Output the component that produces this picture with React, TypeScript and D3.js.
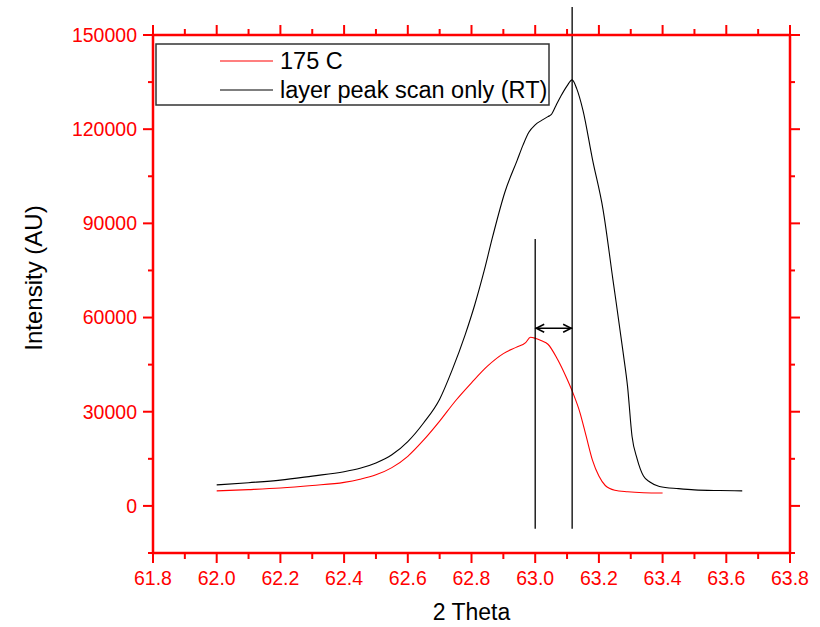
import React from "react";
import * as d3 from "d3";

const rtTheta = [62.0, 62.1, 62.2, 62.3, 62.4, 62.45, 62.5, 62.55, 62.6, 62.65, 62.7, 62.74, 62.78, 62.81, 62.84, 62.867, 62.905, 62.943, 62.962, 62.98, 63.0, 63.02, 63.04, 63.05, 63.065, 63.08, 63.1, 63.116, 63.13, 63.15, 63.18, 63.213, 63.244, 63.276, 63.29, 63.304, 63.32, 63.34, 63.36, 63.39, 63.45, 63.5, 63.58, 63.65];
const rtIntensity = [6700, 7400, 8200, 9500, 10900, 12000, 13700, 16300, 20500, 26500, 34000, 43500, 54500, 64000, 75000, 86000, 100000, 110000, 115000, 119000, 121400, 122800, 124000, 124600, 127500, 130400, 133800, 135700, 133000, 126000, 110300, 94400, 72100, 48900, 38000, 22200, 15000, 9500, 7600, 6200, 5500, 5100, 4900, 4800];

const hotTheta = [62.0, 62.1, 62.2, 62.3, 62.4, 62.45, 62.5, 62.55, 62.6, 62.65, 62.7, 62.75, 62.8, 62.85, 62.9, 62.94, 62.97, 62.985, 63.0, 63.02, 63.04, 63.07, 63.1, 63.12, 63.14, 63.16, 63.18, 63.2, 63.22, 63.25, 63.29, 63.34, 63.4];
const hotIntensity = [4800, 5200, 5700, 6500, 7500, 8500, 9900, 12200, 15800, 21000, 27000, 33500, 39200, 44500, 48500, 50500, 52000, 53700, 53400, 52600, 51500, 46700, 40400, 35600, 29900, 22200, 14500, 9500, 6500, 5000, 4500, 4200, 4100];

const xTicks = [61.8, 62.0, 62.2, 62.4, 62.6, 62.8, 63.0, 63.2, 63.4, 63.6, 63.8];
const yTicks = [0, 30000, 60000, 90000, 120000, 150000];
const seriesNames = ["175 C", "layer peak scan only (RT)"];

const markerTheta = [63.0, 63.116];
const markerTop = [85000, 158900];
const markerBottom = -7300;
const arrowLevel = 56600;

const W = 820, H = 627;
const L = 153, R = 790, T = 35, B = 553;
const RED = "#ff0000";
const FONT = "'Liberation Sans', Arial, sans-serif";

export default function App() {
  const x = d3.scaleLinear().domain([61.8, 63.8]).range([L, R]);
  const y = d3.scaleLinear().domain([-15000, 150000]).range([B, T]);
  const line = d3.line<[number, number]>().x(d => x(d[0])).y(d => y(d[1])).curve(d3.curveMonotoneX);
  const rt = rtTheta.map((t, i) => [t, rtIntensity[i]] as [number, number]);
  const hot = hotTheta.map((t, i) => [t, hotIntensity[i]] as [number, number]);

  const xMinor = d3.range(0, 21).map(i => 61.8 + i * 0.1);
  const yMinor = d3.range(-1, 11).map(i => i * 15000);

  const ax0 = x(markerTheta[0]), ax1 = x(markerTheta[1]), ay = y(arrowLevel);

  return (
    <svg width={W} height={H} style={{ position: "absolute", left: 0, top: 0, background: "#fff" }} fontFamily={FONT}>
      <rect x={0} y={0} width={W} height={H} fill="#fff" />
      {/* data */}
      <path d={line(hot) || ""} fill="none" stroke={RED} strokeWidth={1.1} />
      <path d={line(rt) || ""} fill="none" stroke="#000" strokeWidth={1.1} />
      {/* marker lines */}
      {markerTheta.map((t, i) => (
        <line key={i} x1={x(t)} x2={x(t)} y1={y(markerBottom)} y2={y(markerTop[i])} stroke="#000" strokeWidth={1.3} />
      ))}
      <line x1={ax0} x2={ax1} y1={ay} y2={ay} stroke="#000" strokeWidth={1.5} />
      <path d={`M${ax0 + 9},${ay - 4} L${ax0 + 1},${ay} L${ax0 + 9},${ay + 4}`} fill="none" stroke="#000" strokeWidth={1.5} />
      <path d={`M${ax1 - 9},${ay - 4} L${ax1 - 1},${ay} L${ax1 - 9},${ay + 4}`} fill="none" stroke="#000" strokeWidth={1.5} />
      {/* frame */}
      <rect x={L} y={T} width={R - L} height={B - T} fill="none" stroke={RED} strokeWidth={2.5} />
      {/* x ticks bottom/top */}
      {xMinor.map((v, i) => {
        const major = i % 2 === 0;
        const len = major ? 10 : 6;
        return (
          <g key={"xm" + i}>
            <line x1={x(v)} x2={x(v)} y1={B} y2={B + len} stroke={RED} strokeWidth={2} />
            <line x1={x(v)} x2={x(v)} y1={T} y2={T - len} stroke={RED} strokeWidth={2} />
          </g>
        );
      })}
      {xTicks.map((v, i) => (
        <text key={"xt" + i} x={x(v)} y={585} textAnchor="middle" fontSize={19.5} fill={RED}>{v.toFixed(1)}</text>
      ))}
      {/* y ticks left/right */}
      {yMinor.map((v, i) => {
        const major = v % 30000 === 0;
        const len = major ? 10 : 5;
        return (
          <g key={"ym" + i}>
            <line x1={L} x2={L - len} y1={y(v)} y2={y(v)} stroke={RED} strokeWidth={2} />
            <line x1={R} x2={R + len} y1={y(v)} y2={y(v)} stroke={RED} strokeWidth={2} />
          </g>
        );
      })}
      {yTicks.map((v, i) => (
        <text key={"yt" + i} x={137} y={y(v)} dy="0.35em" textAnchor="end" fontSize={19.5} fill={RED}>{v}</text>
      ))}
      {/* axis titles */}
      <text x={(L + R) / 2} y={620} textAnchor="middle" fontSize={23} fill="#000">2 Theta</text>
      <text transform={`translate(42,278) rotate(-90)`} textAnchor="middle" fontSize={24} fill="#000">Intensity (AU)</text>
      {/* legend */}
      <rect x={156} y={44} width={393} height={61} fill="#fff" stroke="#333" strokeWidth={1.5} />
      <line x1={220} x2={273} y1={61} y2={61} stroke={RED} strokeWidth={1.2} />
      <line x1={220} x2={273} y1={90} y2={90} stroke="#000" strokeWidth={1.2} />
      <text x={280} y={61} dy="0.35em" fontSize={23.5} fill="#000">{seriesNames[0]}</text>
      <text x={280} y={90} dy="0.35em" fontSize={23.5} fill="#000">{seriesNames[1]}</text>
    </svg>
  );
}
